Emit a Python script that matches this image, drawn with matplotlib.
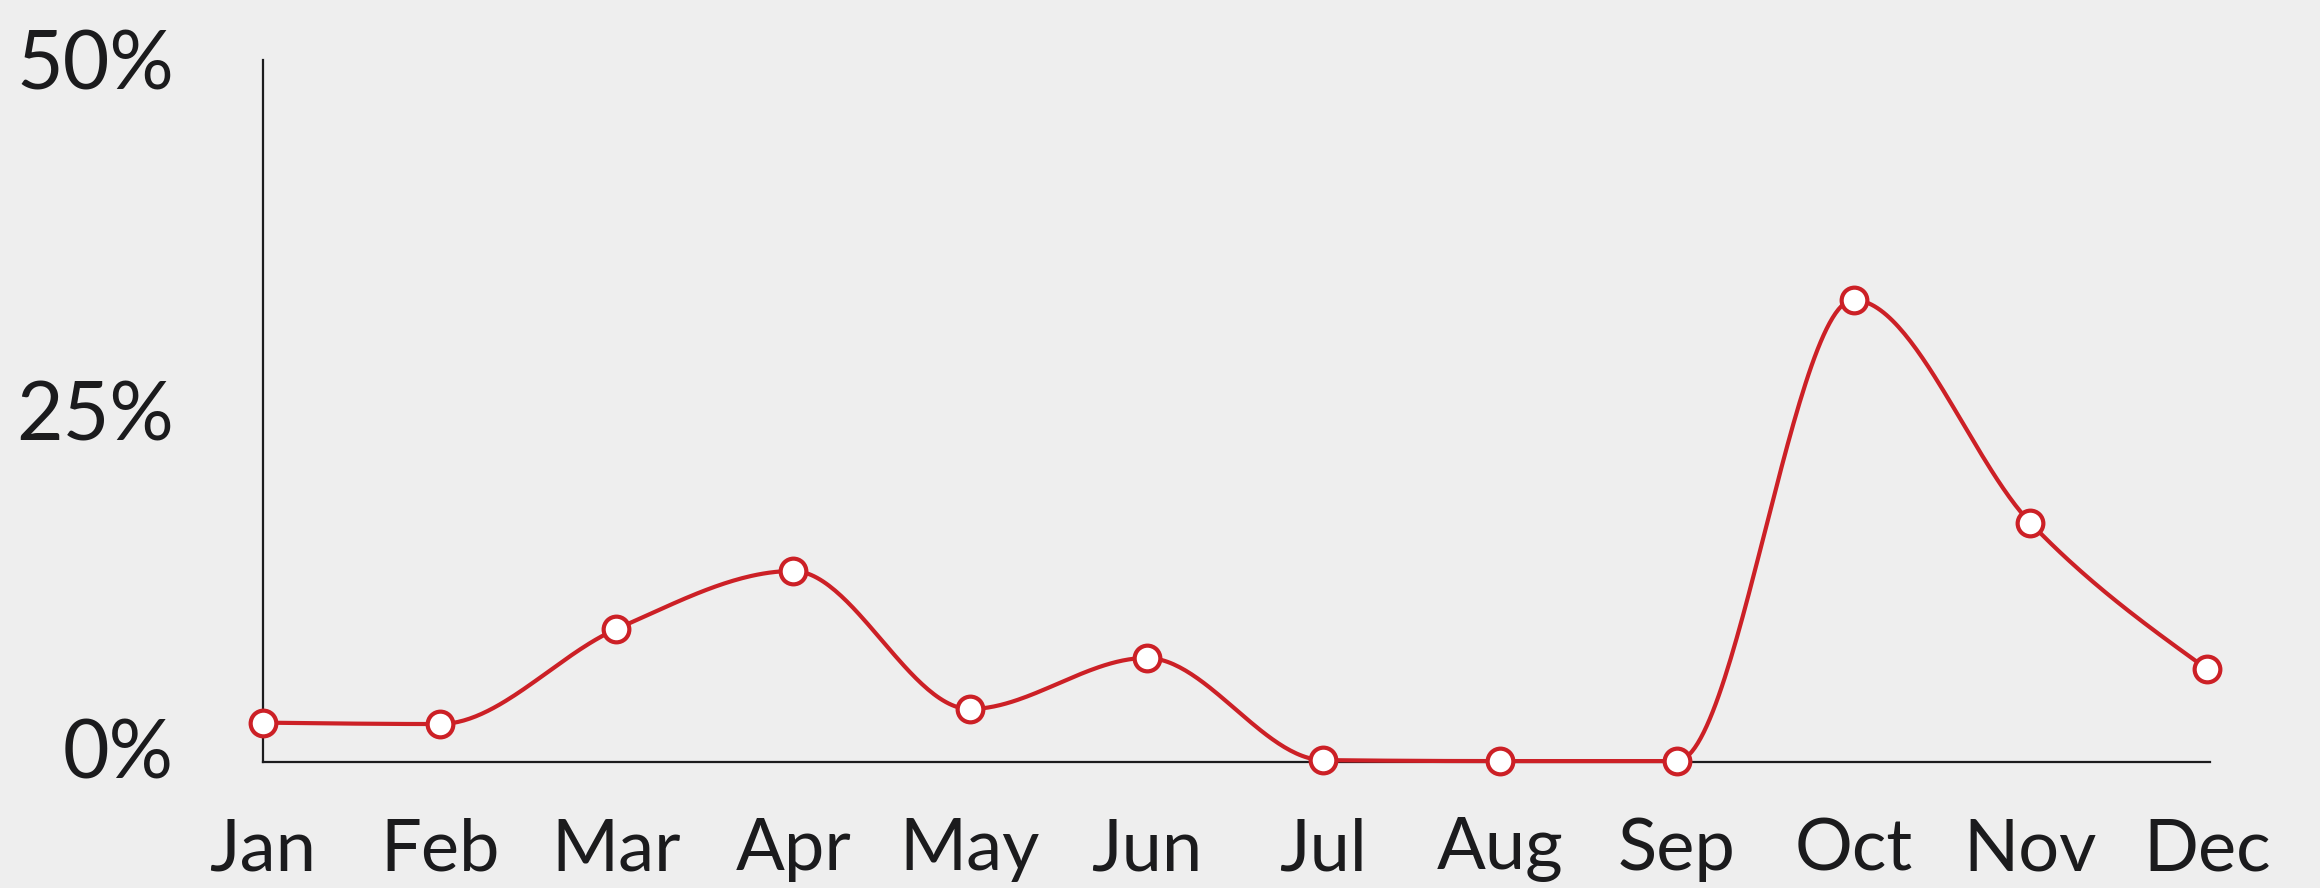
import numpy as np
import matplotlib
matplotlib.use("Agg")
import matplotlib.pyplot as plt
from matplotlib.transforms import ScaledTranslation

months = ["Jan", "Feb", "Mar", "Apr", "May", "Jun",
          "Jul", "Aug", "Sep", "Oct", "Nov", "Dec"]
values = [2.77, 2.67, 9.44, 13.58, 3.74, 7.38,
          0.10, 0.03, 0.03, 32.9, 17.02, 6.59]
y_ticks = [0, 25, 50]
y_tick_labels = ["0%", "25%", "50%"]

BG = "#eeeeee"
RED = "#cc2026"
INK = "#1b1b1d"

plt.rcParams['font.family'] = ['Lato', 'DejaVu Sans']


def monotone_x(xs, ys, n=60):
    """d3.curveMonotoneX style interpolation."""
    xs = np.asarray(xs, float)
    ys = np.asarray(ys, float)
    m = len(xs)
    h = np.diff(xs)
    s = np.diff(ys) / h
    t = np.zeros(m)

    def sgn(v):
        return -1.0 if v < 0 else 1.0
    for i in range(1, m - 1):
        s0, s1 = s[i - 1], s[i]
        p = (s0 * h[i] + s1 * h[i - 1]) / (h[i - 1] + h[i])
        t[i] = (sgn(s0) + sgn(s1)) * min(abs(s0), abs(s1), 0.5 * abs(p))
    t[0] = (3 * s[0] - t[1]) / 2
    t[-1] = (3 * s[-1] - t[-2]) / 2
    out_x, out_y = [], []
    for i in range(m - 1):
        u = np.linspace(0, 1, n)
        h00 = 2 * u**3 - 3 * u**2 + 1
        h10 = u**3 - 2 * u**2 + u
        h01 = -2 * u**3 + 3 * u**2
        h11 = u**3 - u**2
        yy = h00 * ys[i] + h10 * h[i] * t[i] + h01 * ys[i + 1] + h11 * h[i] * t[i + 1]
        xx = xs[i] + u * h[i]
        out_x.append(xx)
        out_y.append(yy)
    return np.concatenate(out_x), np.concatenate(out_y)


fig = plt.figure(figsize=(23.2, 8.88), dpi=100, facecolor=BG)
ax = fig.add_axes([263 / 2320, 1 - 761.5 / 888, (2210 - 263) / 2320, (761.5 - 60) / 888])
ax.set_facecolor(BG)

x = np.arange(len(months))
cx, cy = monotone_x(x, values)
ax.plot(cx, cy, color=RED, lw=3.0, solid_capstyle="round", zorder=3, clip_on=False)
ax.plot(x, values, linestyle="none", marker="o", ms=18.5, mfc="white",
        mec=RED, mew=3.0, zorder=4, clip_on=False)

ax.set_xlim(0, 11.017)
ax.set_ylim(0, 50)

for side in ("top", "right"):
    ax.spines[side].set_visible(False)
for side in ("left", "bottom"):
    ax.spines[side].set_color(INK)
    ax.spines[side].set_linewidth(1.6)

ax.set_xticks(x)
ax.set_xticklabels(months)
ax.set_yticks(y_ticks)
ax.set_yticklabels(y_tick_labels)
ax.tick_params(axis="x", length=0, pad=40, labelsize=52, labelcolor=INK)
ax.tick_params(axis="y", length=0, pad=64, labelsize=58, labelcolor=INK)

# nudge the 0% label upward as in the reference
lbl0 = ax.get_yticklabels()[0]
lbl0.set_transform(lbl0.get_transform() + ScaledTranslation(0, 13 / 100, fig.dpi_scale_trans))

fig.savefig("out.png", dpi=100, facecolor=BG)
